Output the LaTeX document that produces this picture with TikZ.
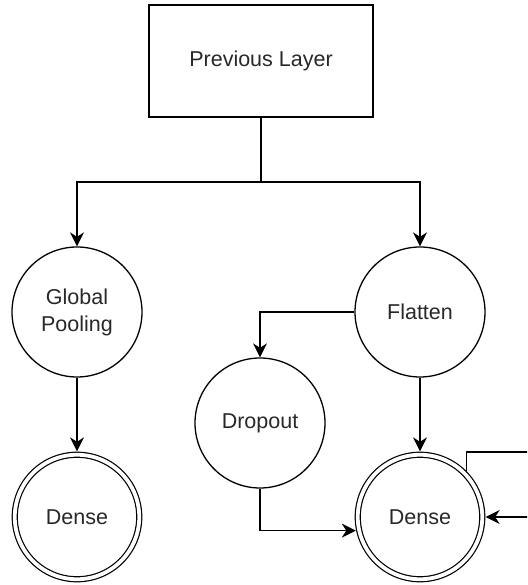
\documentclass[tikz,border=0pt]{standalone}
\usepackage{fontspec}
\setmainfont{Liberation Sans}
\usetikzlibrary{arrows.meta}
\definecolor{txt}{RGB}{40,40,40}
\tikzset{
  every node/.style={font=\fontsize{21.5}{27}\selectfont, text=txt},
  layerbox/.style={draw, line width=1.3pt, minimum width=224pt, minimum height=112pt, inner sep=0pt},
  circ/.style={draw, circle, line width=1.3pt, minimum size=130pt, inner sep=0pt, align=center},
  densecirc/.style={circle, draw, line width=1.2pt, double, double distance=3.8pt, minimum size=124.5pt, inner sep=0pt, outer sep=3.4pt},
  arr/.style={line width=1.3pt, -{Stealth[length=14pt, width=14pt, inset=4.5pt]}},
  ln/.style={line width=1.3pt}
}
\begin{document}
\begin{tikzpicture}[x=1pt,y=1pt]
\useasboundingbox (0,0) rectangle (527,585);
\clip (0,0) rectangle (527,585);
\node[layerbox] (prev) at (261,524) {Previous Layer};
\node[circ] (gp) at (77,273) {Global\\Pooling};
\node[circ] (fl) at (420,273) {Flatten};
\node[circ] (dr) at (260,162) {Dropout};
\node[densecirc] (d1) at (77,68) {Dense};
\node[densecirc] (d2) at (420,68) {Dense};
\coordinate (j) at (261,403);
\coordinate (r1) at (545,133);
\draw[ln] (prev.south) -- (j);
\draw[arr] (j) -| (gp.north);
\draw[arr] (j) -| (fl.north);
\draw[arr] (fl.west) -| (dr.north);
\draw[arr] (gp.south) -- (d1.north);
\draw[arr] (fl.south) -- (d2.north);
\draw[arr] (dr.south) |- (d2.192);
\draw[arr] (d2.45) |- (r1) |- (d2.east);
\end{tikzpicture}
\end{document}
